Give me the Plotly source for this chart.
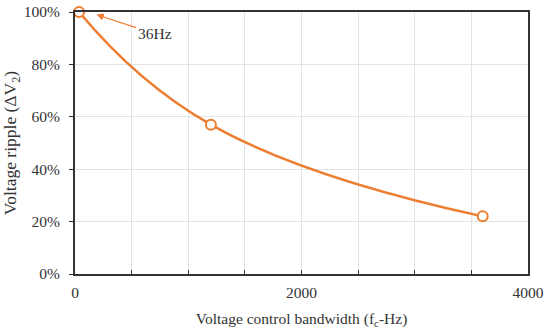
import plotly.graph_objects as go

freq_hz = [36, 1200, 3600]
ripple_pct = [1.00, 0.57, 0.22]
x_tick_vals = [0, 2000, 4000]
x_tick_text = ["0", "2000", "4000"]
y_tick_vals = [0, 0.2, 0.4, 0.6, 0.8, 1.0]
y_tick_text = ["0%", "20%", "40%", "60%", "80%", "100%"]

orange = "#ED7D31"
fam = "Liberation Serif, Times New Roman, serif"
font = dict(family=fam, size=15.5, color="#333")

fig = go.Figure()
fig.add_trace(go.Scatter(
    x=freq_hz, y=ripple_pct, mode="lines+markers",
    line=dict(color=orange, width=2.5, shape="spline", smoothing=1.3),
    marker=dict(symbol="circle", size=10, color="white", line=dict(color=orange, width=2)),
    cliponaxis=False, showlegend=False, hoverinfo="skip",
))

fig.add_annotation(
    x=190, y=0.99, text="36Hz", showarrow=True,
    arrowhead=2, arrowsize=1.2, arrowwidth=1.2, arrowcolor=orange,
    ax=58, ay=19, font=dict(family=fam, size=15.5, color="#333"),
)

fig.update_layout(
    width=550, height=329,
    margin=dict(l=75, r=22, t=12, b=55),
    paper_bgcolor="white", plot_bgcolor="white",
    font=font,
    xaxis=dict(
        range=[0, 4000], tickvals=x_tick_vals, ticktext=x_tick_text,
        automargin=False, ticklabelstandoff=3,
        showgrid=True, gridcolor="#e3e3e3", gridwidth=1,
        minor=dict(dtick=500, tick0=0, showgrid=True, gridcolor="#e3e3e3",
                   ticks="inside", ticklen=4, tickcolor="#333"),
        ticks="inside", ticklen=4, tickcolor="#333",
        showline=True, linecolor="#333", linewidth=2, mirror=True,
        zeroline=False,
        title=dict(text="Voltage control bandwidth (f<sub>c</sub>-Hz)", standoff=14,
                   font=dict(family=fam, size=15.5, color="#333")),
    ),
    yaxis=dict(
        range=[0, 1.0], tickvals=y_tick_vals, ticktext=y_tick_text,
        automargin=False, ticklabelstandoff=6,
        showgrid=True, gridcolor="#e3e3e3", gridwidth=1,
        ticks="outside", ticklen=4, tickcolor="#333",
        showline=True, linecolor="#333", linewidth=2, mirror=True,
        zeroline=False,
        title=dict(text="Voltage ripple (ΔV<sub>2</sub>)", standoff=4,
                   font=dict(family=fam, size=17.5, color="#333")),
    ),
)

fig.write_html("out.html", config={"displayModeBar": False},
               post_script="document.body.style.margin='0';document.body.style.overflow='hidden';")
